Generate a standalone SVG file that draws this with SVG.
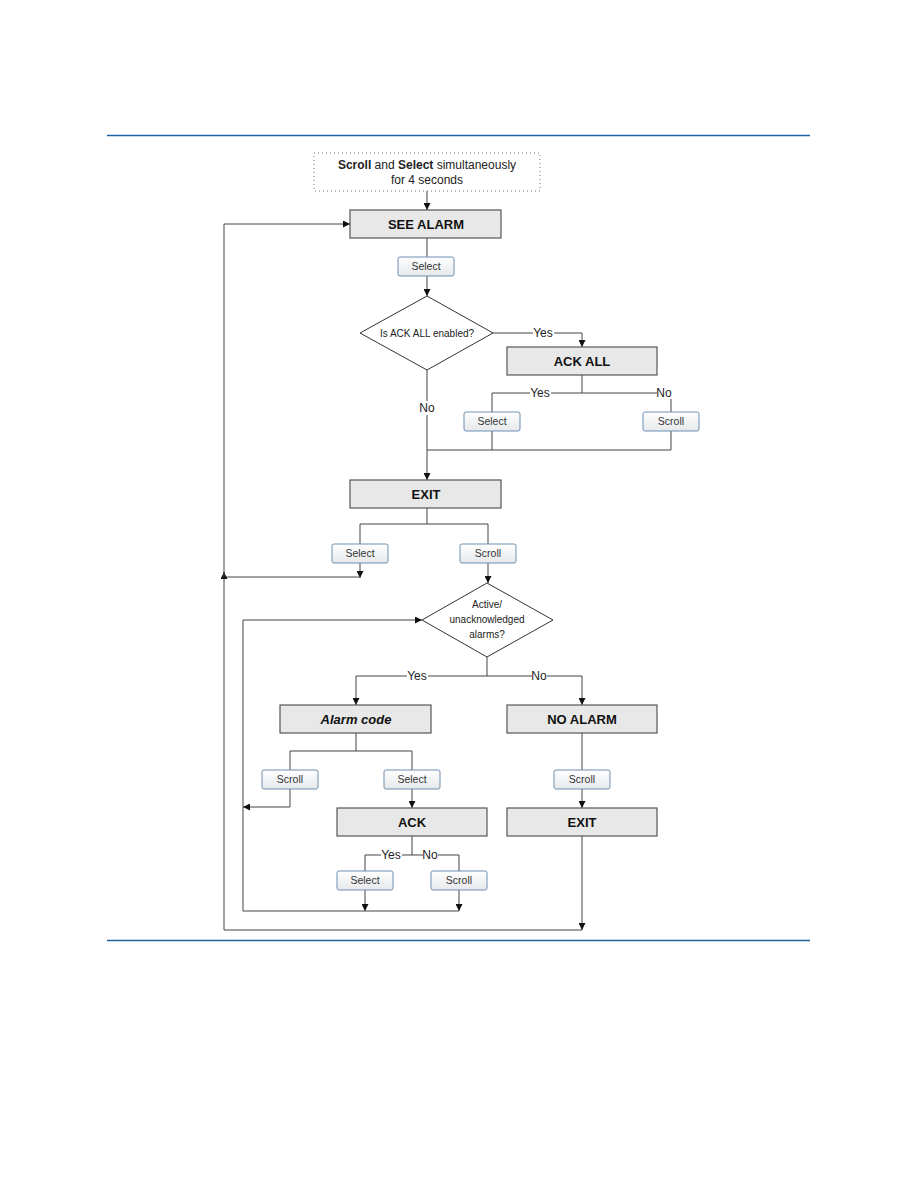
<svg xmlns="http://www.w3.org/2000/svg" width="918" height="1188" viewBox="0 0 918 1188">
<defs>
<linearGradient id="btn" x1="0" y1="0" x2="0" y2="1">
<stop offset="0" stop-color="#ffffff"/>
<stop offset="1" stop-color="#e6e8eb"/>
</linearGradient>
<marker id="ah" viewBox="0 0 10 10" refX="10" refY="5" markerWidth="7" markerHeight="7" markerUnits="userSpaceOnUse" orient="auto">
<path d="M0,0 L10,5 L0,10 z" fill="#111"/>
</marker>
</defs>
<style>
.box{fill:#e8e8e8;stroke:#555;stroke-width:1.2}
.btn{fill:url(#btn);stroke:#6f8fb5;stroke-width:1}
.bt{font-family:"Liberation Sans",Arial,sans-serif;font-size:13px;font-weight:bold;fill:#111;text-anchor:middle}
.st{font-family:"Liberation Sans",Arial,sans-serif;font-size:10.5px;fill:#333;text-anchor:middle}
.dt{font-family:"Liberation Sans",Arial,sans-serif;font-size:10px;fill:#222;text-anchor:middle}
.lb{font-family:"Liberation Sans",Arial,sans-serif;font-size:12px;fill:#222;text-anchor:middle}
.ln{fill:none;stroke:#444;stroke-width:1}
.ar{fill:none;stroke:#444;stroke-width:1;marker-end:url(#ah)}
.dia{fill:#fff;stroke:#333;stroke-width:1}
.rule{stroke:#1f63a3;stroke-width:1.3}
.lbg{fill:#fff}
</style>
<rect width="918" height="1188" fill="#fff"/>
<line class="rule" x1="107" y1="135.5" x2="810" y2="135.5"/>
<line class="rule" x1="107" y1="940.5" x2="810" y2="940.5"/>

<g id="connectors">
<path class="ar" d="M427,191 V210"/>
<path class="ln" d="M427,238 V257"/>
<path class="ar" d="M427,276 V296"/>
<path class="ar" d="M493,333 H582 V347"/>
<path class="ln" d="M582,375 V393 M492,393 H671 M492,393 V412 M671,393 V412"/>
<path class="ln" d="M492,431 V450 M671,431 V450 H427"/>
<path class="ar" d="M427,370 V480"/>
<path class="ln" d="M427,508 V524 M360,524 H488 M360,524 V544 M488,524 V544"/>
<path class="ar" d="M360,563 V578"/>
<path class="ln" d="M360,577 H224"/>
<path class="ar" d="M224,930 V572"/>
<path class="ar" d="M224,577 V224 H350"/>
<path class="ar" d="M488,563 V583"/>
<path class="ar" d="M243,911 V620 H422"/>
<path class="ln" d="M487,657 V676 M356,676 H582"/>
<path class="ar" d="M356,676 V705"/>
<path class="ar" d="M582,676 V705"/>
<path class="ln" d="M356,733 V751 M290,751 H412 M290,751 V770 M412,751 V770"/>
<path class="ar" d="M290,789 V807 H243"/>
<path class="ar" d="M412,789 V808"/>
<path class="ln" d="M412,836 V855 M365,855 H459 M365,855 V871 M459,855 V871"/>
<path class="ar" d="M365,890 V911"/>
<path class="ar" d="M459,890 V911"/>
<path class="ln" d="M243,911 H459"/>
<path class="ln" d="M582,733 V770"/>
<path class="ar" d="M582,789 V808"/>
<path class="ar" d="M582,836 V930"/>
<path class="ln" d="M224,930 H582"/>
<rect class="lbg" x="533" y="326" width="21" height="13"/>
<text class="lb" x="543" y="337">Yes</text>
<rect class="lbg" x="530" y="386" width="21" height="13"/>
<text class="lb" x="540" y="397">Yes</text>
<rect class="lbg" x="657" y="386" width="15" height="13"/>
<text class="lb" x="664" y="397">No</text>
<rect class="lbg" x="418" y="401" width="18" height="14"/>
<text class="lb" x="427" y="412">No</text>
<rect class="lbg" x="407" y="669" width="21" height="13"/>
<text class="lb" x="417" y="680">Yes</text>
<rect class="lbg" x="532" y="669" width="15" height="13"/>
<text class="lb" x="539" y="680">No</text>
<rect class="lbg" x="381" y="848" width="21" height="13"/>
<text class="lb" x="391" y="859">Yes</text>
<rect class="lbg" x="423" y="848" width="15" height="13"/>
<text class="lb" x="430" y="859">No</text>
</g>

<g id="start">
<rect x="314" y="153" width="226" height="38" fill="#fff" stroke="#777" stroke-width="1" stroke-dasharray="1,3"/>
<text class="lb" x="427" y="169"><tspan font-weight="bold">Scroll</tspan> and <tspan font-weight="bold">Select</tspan> simultaneously</text>
<text class="lb" x="427" y="184">for 4 seconds</text>
</g>

<g id="see-alarm"><rect class="box" x="350" y="210" width="151" height="28"/><text class="bt" x="426" y="229">SEE ALARM</text></g>
<g id="btn-select-1"><rect class="btn" x="398" y="257" width="56" height="19" rx="2"/><text class="st" x="426" y="270">Select</text></g>
<g id="dec-ackall"><polygon class="dia" points="427,296 493,333 427,370 360,333"/><text class="dt" x="427" y="337">Is ACK ALL enabled?</text></g>
<g id="ack-all"><rect class="box" x="507" y="347" width="150" height="28"/><text class="bt" x="582" y="366">ACK ALL</text></g>
<g id="btn-select-2"><rect class="btn" x="464" y="412" width="56" height="19" rx="2"/><text class="st" x="492" y="425">Select</text></g>
<g id="btn-scroll-2"><rect class="btn" x="643" y="412" width="56" height="19" rx="2"/><text class="st" x="671" y="425">Scroll</text></g>
<g id="exit-1"><rect class="box" x="350" y="480" width="151" height="28"/><text class="bt" x="426" y="499">EXIT</text></g>
<g id="btn-select-3"><rect class="btn" x="332" y="544" width="56" height="19" rx="2"/><text class="st" x="360" y="557">Select</text></g>
<g id="btn-scroll-3"><rect class="btn" x="460" y="544" width="56" height="19" rx="2"/><text class="st" x="488" y="557">Scroll</text></g>
<g id="dec-active"><polygon class="dia" points="487,583 553,620 487,657 422,620"/>
<text class="dt" x="487" y="608">Active/</text><text class="dt" x="487" y="623">unacknowledged</text><text class="dt" x="487" y="638">alarms?</text></g>
<g id="alarm-code"><rect class="box" x="280" y="705" width="151" height="28"/><text class="bt" x="356" y="724" font-style="italic">Alarm code</text></g>
<g id="no-alarm"><rect class="box" x="507" y="705" width="150" height="28"/><text class="bt" x="582" y="724">NO ALARM</text></g>
<g id="btn-scroll-4"><rect class="btn" x="262" y="770" width="56" height="19" rx="2"/><text class="st" x="290" y="783">Scroll</text></g>
<g id="btn-select-4"><rect class="btn" x="384" y="770" width="56" height="19" rx="2"/><text class="st" x="412" y="783">Select</text></g>
<g id="btn-scroll-5"><rect class="btn" x="554" y="770" width="56" height="19" rx="2"/><text class="st" x="582" y="783">Scroll</text></g>
<g id="ack"><rect class="box" x="337" y="808" width="150" height="28"/><text class="bt" x="412" y="827">ACK</text></g>
<g id="exit-2"><rect class="box" x="507" y="808" width="150" height="28"/><text class="bt" x="582" y="827">EXIT</text></g>
<g id="btn-select-5"><rect class="btn" x="337" y="871" width="56" height="19" rx="2"/><text class="st" x="365" y="884">Select</text></g>
<g id="btn-scroll-6"><rect class="btn" x="431" y="871" width="56" height="19" rx="2"/><text class="st" x="459" y="884">Scroll</text></g>
</svg>
